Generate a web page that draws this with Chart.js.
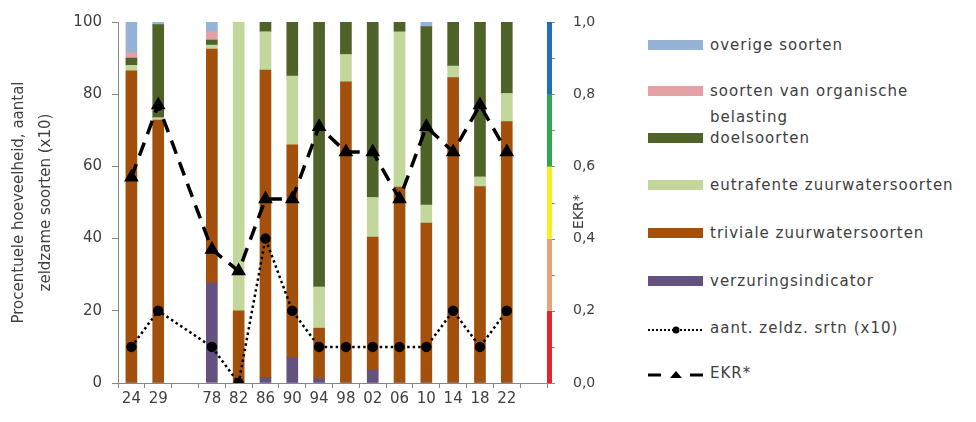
<!DOCTYPE html>
<html><head><meta charset="utf-8">
<script src="https://cdn.jsdelivr.net/npm/chart.js@4.4.1/dist/chart.umd.min.js"></script>
<style>
html,body{margin:0;padding:0;background:#fff;}
#wrap{position:absolute;left:0;top:0;width:640px;height:422px;}
#legend{position:absolute;left:648px;top:0;width:328px;height:422px;font-family:"DejaVu Sans",sans-serif;font-size:15px;color:#404040;letter-spacing:1px;}
.sym{position:absolute;left:0;}
.txt{position:absolute;left:62px;line-height:26px;white-space:pre;}
</style></head><body>
<div id="wrap"><canvas id="c"></canvas></div>
<div id="legend"></div>
<script>
// ---- data ----
const categories = ['24','29','','78','82','86','90','94','98','02','06','10','14','18','22',''];
const verzuringsindicator        = [0,   0,   null, 27.7, 0,  1.5,  7,  1.2,  0,   3.6,  0,    0,    0,    0,    0,    null];
const trivialeZuurwatersoorten   = [86.5,72.8,null, 64.8, 20, 85.2, 59, 14,   83.4,36.8, 54.3, 44.3, 84.6, 54.4, 72.4, null];
const eutrafenteZuurwatersoorten = [1.5, 0.7, null, 1.1,  80, 10.6, 19, 11.4, 7.6, 11,   43,   5,    3.2,  2.7,  7.8,  null];
const doelsoorten                = [2,   25.8,null, 1.4,  0,  2.7,  15, 73.4, 9,   48.6, 2.7,  49.4, 12.2, 42.9, 19.8, null];
const organischeBelasting        = [1.5, 0,   null, 2.3,  0,  0,    0,  0,    0,   0,    0,    0,    0,    0,    0,    null];
const overigeSoorten             = [8.5, 0.7, null, 2.7,  0,  0,    0,  0,    0,   0,    0,    1.3,  0,    0,    0,    null];
const zeldzameSoorten            = [10,  20,  null, 10,   0,  40,   20, 10,   10,  10,   10,   10,   20,   10,   20,   null];
const ekr                        = [0.57,0.77,null, 0.37, 0.31,0.51,0.51,0.71,0.64,0.64, 0.51, 0.71, 0.64, 0.77, 0.64, null];
const rightTickLabels = ['0,0','0,2','0,4','0,6','0,8','1,0'];
const ekrBandEdges  = [0, 0.2, 0.4, 0.6, 0.8, 1.0];
const ekrBandColors = ['#E8232B','#E4A275','#F7F020','#2BA84E','#1E6FB8'];
const seriesNames = ['overige soorten','soorten van organische\nbelasting','doelsoorten','eutrafente zuurwatersoorten','triviale zuurwatersoorten','verzuringsindicator','aant. zeldz. srtn (x10)','EKR*'];
const seriesColors = ['#95B3D7','#E3A1A6','#4F6228','#C3D69B','#A3500C','#63517F','#000000','#000000'];
const leftTitle = ['Procentuele hoeveelheid, aantal','zeldzame soorten (x10)'];
const rightTitle = 'EKR*';

const FONT = '"DejaVu Sans", sans-serif';
const AXIS = '#868686';
const TXT = '#404040';

function barSet(idx, data){
  return {type:'bar', label:seriesNames[idx], data, backgroundColor:seriesColors[idx],
    borderWidth:0, barThickness:11, yAxisID:'y', stack:'s', order:2};
}

const ekrAxisPlugin = {
  id:'ekrAxis',
  afterDraw(chart){
    const s = chart.scales.y1, ctx = chart.ctx;
    ctx.save();
    // short tick marks of the EKR axis
    ctx.strokeStyle = AXIS; ctx.lineWidth = 1;
    s.ticks.forEach((t,i)=>{
      const y = Math.round(s.getPixelForTick(i))+0.5;
      ctx.beginPath(); ctx.moveTo(s.left, y); ctx.lineTo(s.left+8, y); ctx.stroke();
    });
    // coloured axis line
    ctx.lineWidth = 5;
    for (let i=0;i<ekrBandColors.length;i++){
      ctx.strokeStyle = ekrBandColors[i];
      ctx.beginPath();
      ctx.moveTo(s.left+2.5, s.getPixelForValue(ekrBandEdges[i]));
      ctx.lineTo(s.left+2.5, s.getPixelForValue(ekrBandEdges[i+1]));
      ctx.stroke();
    }
    ctx.translate(s.left+32, s.getPixelForValue(0.475));
    ctx.rotate(-Math.PI/2);
    ctx.fillStyle = TXT;
    ctx.font = '14px '+FONT;
    ctx.textAlign='center'; ctx.textBaseline='middle';
    ctx.fillText(rightTitle,0,0);
    ctx.restore();
  }
};

new Chart(document.getElementById('c'), {
  data:{
    labels:categories,
    datasets:[
      barSet(5, verzuringsindicator),
      barSet(4, trivialeZuurwatersoorten),
      barSet(3, eutrafenteZuurwatersoorten),
      barSet(2, doelsoorten),
      barSet(1, organischeBelasting),
      barSet(0, overigeSoorten),
      {type:'line', label:seriesNames[6], data:zeldzameSoorten, yAxisID:'y', stack:'z', order:0,
        borderColor:'#000', borderWidth:2.5, borderDash:[2.5,3], pointStyle:'circle', pointRadius:4,
        pointBackgroundColor:'#000', pointBorderColor:'#000', spanGaps:true, tension:0, fill:false},
      {type:'line', label:seriesNames[7], data:ekr, yAxisID:'y1', order:1,
        borderColor:'#000', borderWidth:3.5, borderDash:[14,9], pointStyle:'triangle', pointRadius:5,
        pointBackgroundColor:'#000', pointBorderColor:'#000', spanGaps:true, tension:0, fill:false}
    ]
  },
  options:{
    responsive:true, maintainAspectRatio:false, animation:false,
    layout:{padding:{top:22,left:0,right:0,bottom:0}},
    plugins:{legend:{display:false}, tooltip:{enabled:false}},
    scales:{
      x:{stacked:true, offset:true,
        grid:{display:true, offset:true, drawOnChartArea:false, tickLength:5, color:AXIS},
        border:{color:AXIS},
        ticks:{color:TXT, font:{family:FONT,size:15}, padding:2, maxRotation:0, autoSkip:false},
        afterFit(s){ s.height = 39; }
      },
      y:{position:'left', stacked:true, min:0, max:100,
        grid:{drawOnChartArea:false, tickLength:6, color:AXIS},
        border:{color:AXIS},
        ticks:{stepSize:20, color:TXT, font:{family:FONT,size:15}, padding:10},
        title:{display:true, text:leftTitle, color:TXT, font:{family:FONT,size:15,lineHeight:1.8}, padding:{top:6,bottom:0}},
        afterFit(s){ s.width = 118; }
      },
      y1:{position:'right', min:0, max:1,
        grid:{drawOnChartArea:false, tickLength:24, tickColor:'rgba(0,0,0,0)', color:AXIS},
        border:{display:false},
        ticks:{stepSize:0.1, color:TXT, font:{family:FONT,size:14}, padding:2,
          callback:(v,i)=> (i%2===0 ? rightTickLabels[i/2] : '')},
        afterFit(s){ s.width = 93; }
      }
    }
  },
  plugins:[ekrAxisPlugin]
});

// ---- HTML legend ----
const rowY = [45, 91, 138, 185, 233, 281, 328, 373];
const leg = document.getElementById('legend');
seriesNames.forEach((name,i)=>{
  const y = rowY[i];
  const sym = document.createElement('div');
  sym.className='sym';
  if (i<6){
    sym.style.top=(y-5)+'px'; sym.style.width='55px'; sym.style.height='10px';
    sym.style.background=seriesColors[i];
  } else if (i===6){
    sym.style.top=(y-6)+'px';
    sym.innerHTML='<svg width="56" height="12"><line x1="0" y1="6" x2="56" y2="6" stroke="#000" stroke-width="2" stroke-dasharray="2,2"/><circle cx="28" cy="6" r="3.5" fill="#000"/></svg>';
  } else {
    sym.style.top=(y-6)+'px';
    sym.innerHTML='<svg width="56" height="12"><line x1="0" y1="6" x2="13" y2="6" stroke="#000" stroke-width="3"/><line x1="42" y1="6" x2="55" y2="6" stroke="#000" stroke-width="3"/><polygon points="22,9 34,9 28,2" fill="#000"/></svg>';
  }
  leg.appendChild(sym);
  const t = document.createElement('div');
  t.className='txt';
  t.style.top=(y-13)+'px';
  t.textContent=name;
  leg.appendChild(t);
});
</script>
</body></html>
